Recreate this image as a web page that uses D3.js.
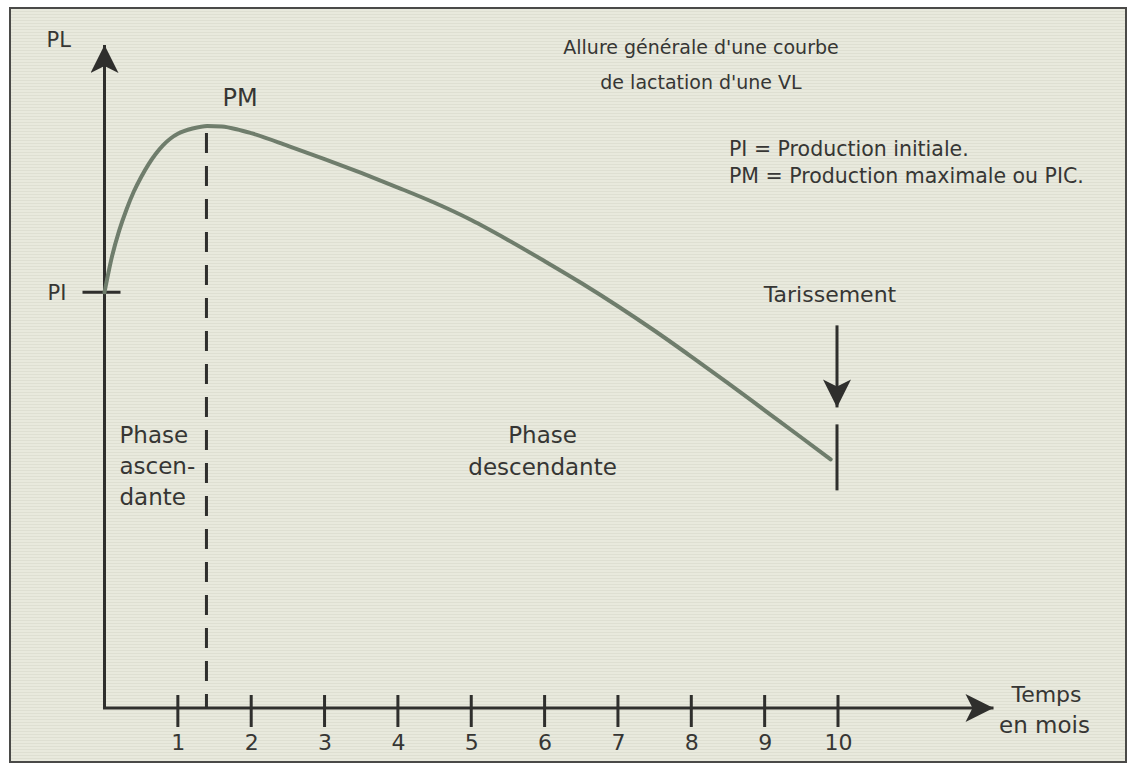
<!DOCTYPE html>
<html>
<head>
<meta charset="utf-8">
<script src="https://cdn.jsdelivr.net/npm/d3@7"></script>
<style>
  body { margin: 0; background: #fff; }
  svg text { font-family: 'DejaVu Sans', sans-serif; fill: #363634; }
</style>
</head>
<body>
<svg id="chart" width="1134" height="765"></svg>
<script>
// Lactation curve (time in months, production in arbitrary units)
const timeMonths = [0, 0.1, 0.2, 0.3, 0.4, 0.5, 0.6, 0.7, 0.8, 0.9, 1.0, 1.2, 1.4, 1.6, 1.8, 2.0,
    2.5, 3.0, 3.5, 4.0, 4.5, 5.0, 5.5, 6.0, 6.5, 7.0, 7.5, 8.0, 8.5, 9.0, 9.5, 9.9];
const production = [62.7, 68.0, 72.0, 75.2, 77.9, 80.1, 82.0, 83.6, 84.9, 85.9, 86.6, 87.4, 87.8, 87.7, 87.3, 86.7,
    84.8, 82.8, 80.7, 78.5, 76.2, 73.6, 70.6, 67.4, 64.1, 60.6, 56.9, 53.0, 49.0, 44.9, 40.8, 37.5];

// Axis ticks and markers
const monthTicks = [1, 2, 3, 4, 5, 6, 7, 8, 9, 10];
const peakMonth = 1.39;         // PM
const initialProduction = 62.7; // PI
const dryOffMonth = 10;         // Tarissement

const titleLines = ["Allure générale d'une courbe", "de lactation d'une VL"];
const legendLines = ["PI = Production initiale.", "PM = Production maximale ou PIC."];

const svg = d3.select('#chart');

// Paper background with a faint scan texture
const defs = svg.append('defs');
const pat = defs.append('pattern')
    .attr('id', 'scan')
    .attr('width', 4).attr('height', 3)
    .attr('patternUnits', 'userSpaceOnUse');
pat.append('rect').attr('width', 4).attr('height', 3).attr('fill', '#e8e9dd');
pat.append('rect').attr('y', 2).attr('width', 4).attr('height', 1).attr('fill', '#dedfd2');

svg.append('rect')
    .attr('x', 10).attr('y', 8)
    .attr('width', 1116).attr('height', 754)
    .attr('fill', 'url(#scan)')
    .attr('stroke', '#4a4a48')
    .attr('stroke-width', 2);

// Scales
const x = d3.scaleLinear().domain([0, 10]).range([104.5, 838]);
const y = d3.scaleLinear().domain([0, 100]).range([708, 45]);

const ink = '#2f2f2d';

// Arrow heads
defs.append('marker')
    .attr('id', 'arrow')
    .attr('viewBox', '0 0 10 10')
    .attr('refX', 10).attr('refY', 5)
    .attr('markerUnits', 'userSpaceOnUse')
    .attr('markerWidth', 30).attr('markerHeight', 28)
    .attr('orient', 'auto')
    .append('path')
    .attr('d', 'M0,0 L10,5 L0,10 L2.5,5 Z')
    .attr('fill', ink);

// Y axis (PL)
svg.append('line')
    .attr('x1', x(0)).attr('y1', y(0))
    .attr('x2', x(0)).attr('y2', y(100))
    .attr('stroke', ink).attr('stroke-width', 3)
    .attr('marker-end', 'url(#arrow)');

svg.append('text')
    .attr('x', x(0) - 58).attr('y', y(100) + 2)
    .style('font-size', '21px')
    .text('PL');

// X axis (Temps en mois)
const xEnd = 12.12;
svg.append('line')
    .attr('x1', x(0) - 1.5).attr('y1', y(0))
    .attr('x2', x(xEnd)).attr('y2', y(0))
    .attr('stroke', ink).attr('stroke-width', 3)
    .attr('marker-end', 'url(#arrow)');

const xAxis = svg.append('g')
    .attr('transform', `translate(0,${y(0)})`)
    .call(d3.axisBottom(x).tickValues(monthTicks).tickSize(0).tickPadding(26).tickFormat(d3.format('d')));
xAxis.select('.domain').remove();
xAxis.selectAll('text')
    .style('font-size', '22px')
    .style('font-family', "'DejaVu Sans', sans-serif")
    .attr('fill', '#3a3a38');

svg.append('g')
    .selectAll('line')
    .data(monthTicks)
    .enter()
    .append('line')
    .attr('x1', d => x(d)).attr('x2', d => x(d))
    .attr('y1', y(0) - 13).attr('y2', y(0) + 19)
    .attr('stroke', ink).attr('stroke-width', 3);

svg.append('text')
    .attr('x', x(xEnd) + 53).attr('y', y(0) - 6)
    .attr('text-anchor', 'middle')
    .style('font-size', '22px')
    .text('Temps');
svg.append('text')
    .attr('x', x(xEnd) + 51).attr('y', y(0) + 25)
    .attr('text-anchor', 'middle')
    .style('font-size', '23px')
    .text('en mois');

// PI tick and label
svg.append('line')
    .attr('x1', x(0) - 22).attr('x2', x(0) + 16)
    .attr('y1', y(initialProduction)).attr('y2', y(initialProduction))
    .attr('stroke', ink).attr('stroke-width', 3);
svg.append('text')
    .attr('x', x(0) - 57).attr('y', y(initialProduction) + 8)
    .style('font-size', '21px')
    .text('PI');

// Peak dashed line
const peakValue = d3.max(production);
svg.append('line')
    .attr('x1', x(peakMonth)).attr('x2', x(peakMonth))
    .attr('y1', y(peakValue) + 7).attr('y2', y(0))
    .attr('stroke', ink).attr('stroke-width', 3)
    .attr('stroke-dasharray', '20,13');
svg.append('text')
    .attr('x', x(peakMonth) + 16).attr('y', y(peakValue) - 20)
    .style('font-size', '24px')
    .text('PM');

// Lactation curve
const line = d3.line()
    .x((d, i) => x(timeMonths[i]))
    .y(d => y(d))
    .curve(d3.curveMonotoneX);

svg.append('path')
    .datum(production)
    .attr('d', line)
    .attr('fill', 'none')
    .attr('stroke', '#6f7d6c')
    .attr('stroke-width', 4)
    .attr('stroke-linecap', 'round');

// Tarissement arrow and mark
const lastValue = production[production.length - 1];
svg.append('line')
    .attr('x1', x(dryOffMonth) - 1).attr('x2', x(dryOffMonth) - 1)
    .attr('y1', y(lastValue) - 134).attr('y2', y(lastValue) - 52)
    .attr('stroke', ink).attr('stroke-width', 3)
    .attr('marker-end', 'url(#arrow)');
svg.append('line')
    .attr('x1', x(dryOffMonth) - 1).attr('x2', x(dryOffMonth) - 1)
    .attr('y1', y(lastValue) - 35).attr('y2', y(lastValue) + 31)
    .attr('stroke', ink).attr('stroke-width', 3);
svg.append('text')
    .attr('x', x(dryOffMonth) - 8).attr('y', y(lastValue) - 157)
    .attr('text-anchor', 'middle')
    .style('font-size', '22px')
    .text('Tarissement');

// Phase labels
const asc = svg.append('text')
    .attr('x', x(0) + 15).attr('y', 443)
    .style('font-size', '23px');
['Phase', 'ascen-', 'dante'].forEach((t, i) => {
    asc.append('tspan').attr('x', x(0) + 15).attr('dy', i === 0 ? 0 : 31).text(t);
});

const desc = svg.append('text')
    .attr('x', x(6) - 2).attr('y', 443)
    .attr('text-anchor', 'middle')
    .style('font-size', '23px');
['Phase', 'descendante'].forEach((t, i) => {
    desc.append('tspan').attr('x', x(6) - 2).attr('dy', i === 0 ? 0 : 32).text(t);
});

// Title
svg.append('g')
    .selectAll('text')
    .data(titleLines)
    .enter()
    .append('text')
    .attr('x', 701)
    .attr('y', (d, i) => 54 + i * 35)
    .attr('text-anchor', 'middle')
    .style('font-size', '19px')
    .text(d => d);

// Legend
svg.append('g')
    .selectAll('text')
    .data(legendLines)
    .enter()
    .append('text')
    .attr('x', 729)
    .attr('y', (d, i) => 156 + i * 27)
    .style('font-size', '20.5px')
    .text(d => d);
</script>
</body>
</html>
